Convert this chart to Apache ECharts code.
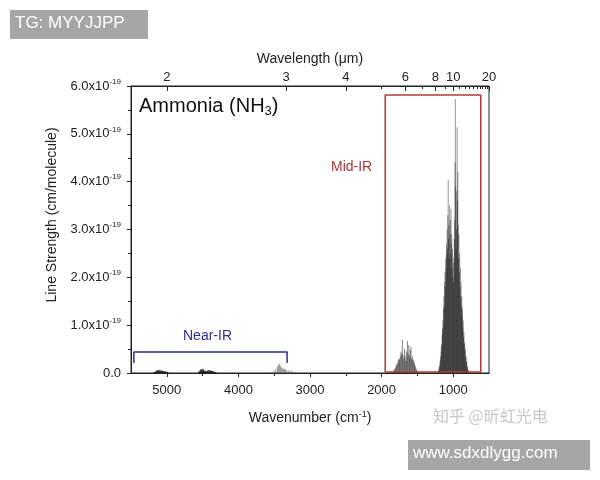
<!DOCTYPE html>
<html>
<head>
<meta charset="utf-8">
<script src="https://cdn.jsdelivr.net/npm/echarts@6/dist/echarts.min.js"></script>
<style>html,body{margin:0;padding:0;background:#fff;}#c{width:600px;height:480px;}</style>
</head>
<body>
<div id="c"></div>
<script>
// Line strength in units of 1e-19 cm/molecule, [wavenumber cm^-1, strength]
const nearIrBandA = [[5180,0.01],[5170,0.02],[5160,0.03],[5150,0.04],[5140,0.05],[5130,0.06],[5120,0.05],[5110,0.07],[5100,0.06],[5090,0.05],[5080,0.06],[5070,0.04],[5060,0.05],[5050,0.04],[5040,0.03],[5030,0.04],[5020,0.03],[5010,0.02],[5000,0.03],[4990,0.02],[4980,0.01]];
const nearIrBandB = [[4560,0.01],[4550,0.03],[4540,0.05],[4530,0.07],[4520,0.08],[4510,0.07],[4500,0.09],[4490,0.08],[4480,0.06],[4470,0.05],[4460,0.04],[4450,0.03],[4440,0.04],[4430,0.05],[4420,0.06],[4410,0.05],[4400,0.06],[4390,0.05],[4380,0.04],[4370,0.05],[4360,0.04],[4350,0.03],[4340,0.03],[4330,0.02],[4320,0.02],[4310,0.01]];
const nearIrBandC = [[3540,0.01],[3520,0.03],[3500,0.05],[3480,0.08],[3460,0.12],[3450,0.15],[3440,0.18],[3430,0.2],[3420,0.16],[3410,0.14],[3400,0.12],[3390,0.1],[3380,0.09],[3370,0.08],[3360,0.1],[3350,0.08],[3340,0.06],[3330,0.07],[3320,0.05],[3300,0.06],[3280,0.04],[3260,0.05],[3240,0.03],[3220,0.02],[3200,0.01]];
const nu4Band = [[1850,0.01],[1840,0.03],[1830,0.05],[1820,0.08],[1810,0.1],[1800,0.14],[1790,0.18],[1780,0.2],[1770,0.26],[1760,0.3],[1750,0.28],[1740,0.35],[1730,0.45],[1720,0.4],[1710,0.69],[1700,0.38],[1690,0.3],[1680,0.5],[1670,0.35],[1660,0.25],[1650,0.45],[1640,0.67],[1630,0.4],[1620,0.58],[1610,0.35],[1600,0.48],[1590,0.55],[1580,0.3],[1570,0.35],[1560,0.28],[1550,0.25],[1540,0.2],[1530,0.15],[1520,0.1],[1510,0.07],[1500,0.04],[1490,0.02]];
const nu2Band = [[1210,0.02],[1205,0.05],[1200,0.08],[1195,0.12],[1190,0.15],[1185,0.22],[1180,0.28],[1175,0.35],[1170,0.45],[1165,0.6],[1160,0.55],[1155,0.8],[1150,0.95],[1145,1.1],[1140,0.9],[1135,1.35],[1130,1.6],[1125,1.4],[1120,1.9],[1115,2.1],[1110,1.8],[1105,2.4],[1100,2.2],[1095,2.7],[1090,2.5],[1085,3.0],[1080,2.6],[1075,3.3],[1070,4.04],[1065,2.8],[1060,3.1],[1055,2.4],[1050,3.5],[1045,2.9],[1040,3.2],[1035,2.5],[1030,3.43],[1025,2.7],[1020,2.9],[1015,2.2],[1010,2.6],[1005,2.0],[1000,2.4],[995,1.9],[990,2.3],[985,2.8],[980,3.2],[975,4.4],[970,5.73],[965,3.9],[960,2.6],[955,3.0],[950,3.8],[945,5.14],[940,3.6],[935,4.2],[930,3.1],[925,2.4],[920,2.9],[915,2.1],[910,2.5],[905,1.8],[900,2.2],[895,1.6],[890,1.9],[885,1.4],[880,1.6],[875,1.2],[870,1.35],[865,0.95],[860,1.1],[855,0.75],[850,0.85],[845,0.6],[840,0.65],[835,0.45],[830,0.5],[825,0.32],[820,0.35],[815,0.22],[810,0.25],[805,0.15],[800,0.12],[795,0.08],[790,0.06],[785,0.04],[780,0.02]];

const wavenumberMajor = [1000,2000,3000,4000,5000];
const wavenumberMinor = [1500,2500,3500,4500];
const wavelengthMajor = [2,3,4,6,8,10,20];
const wavelengthMinor = [5,7,9,11,12,13,14,15,16,17,18,19];
const nearIrBracket = [[5460,0.21],[5460,0.44],[3320,0.44],[3320,0.21]];
const midIrBox = [[1950,0.02],[1950,5.81],[615,5.81],[615,0.02],[1950,0.02]];

const FONT = 'Liberation Sans';
const toWn = l => 10000 / l;

const chart = echarts.init(document.getElementById('c'), null, {renderer:'canvas'});
const axisBase = (pos) => ({
  type:'value', position:pos, min:500, max:5500, inverse:true, gridIndex:0,
  axisLine:{show:true, lineStyle:{color:'#222'}}, splitLine:{show:false}
});
const barStyle = (c) => ({type:'bar', xAxisIndex:0, yAxisIndex:0, barWidth:1, barGap:'-100%', itemStyle:{color:c}, silent:true, animation:false});
chart.setOption({
  animation:false,
  textStyle:{fontFamily:FONT},
  grid:{left:131, right:111, top:86, bottom:107, show:true, borderColor:'#222', borderWidth:1, backgroundColor:'transparent'},
  xAxis:[
    Object.assign(axisBase('bottom'), {
     name:'Wavenumber (cm{s|-1})', nameLocation:'middle', nameGap:37,
     nameTextStyle:{fontFamily:FONT, fontSize:14, color:'#222', rich:{s:{fontSize:9, verticalAlign:'top', padding:[0,0,8,0], fontFamily:FONT, color:'#222'}}},
     axisTick:{show:true, length:4, customValues:wavenumberMajor, lineStyle:{color:'#222'}},
     axisLabel:{show:true, fontSize:13, color:'#222', margin:11, customValues:wavenumberMajor, formatter:v=>String(v)}}),
    Object.assign(axisBase('top'), {
      name:'Wavelength (\u03bcm)', nameLocation:'middle', nameGap:16,
      nameTextStyle:{fontFamily:FONT, fontSize:14, color:'#222'},
      axisTick:{show:true, inside:true, length:5, customValues:wavelengthMajor.map(toWn), lineStyle:{color:'#222'}},
      axisLabel:{show:true, fontSize:13, color:'#222', margin:2, customValues:wavelengthMajor.map(toWn), formatter:v=>String(Math.round(10000/v))}
    }),
    Object.assign(axisBase('top'), {
      axisTick:{show:true, inside:true, length:3, customValues:wavelengthMinor.map(toWn), lineStyle:{color:'#222'}},
      axisLabel:{show:false}
    }),
    Object.assign(axisBase('bottom'), {
      axisTick:{show:true, length:3, customValues:wavenumberMinor, lineStyle:{color:'#222'}},
      axisLabel:{show:false}
    })
  ],
  yAxis:[
    {type:'value', min:0, max:6, interval:1,
     axisLine:{show:true, lineStyle:{color:'#222'}}, axisTick:{length:4, lineStyle:{color:'#222'}},
     minorTick:{show:true, splitNumber:2, length:3, lineStyle:{color:'#222'}},
     splitLine:{show:false},
     axisLabel:{margin:10, color:'#222', fontSize:13,
       formatter:v=> v===0 ? '{b|0.0}' : '{b|'+v.toFixed(1)+'x10}{s|-19}',
       rich:{b:{fontSize:13, fontFamily:FONT, color:'#222'}, s:{fontSize:8, fontFamily:FONT, color:'#222', verticalAlign:'top', padding:[0,0,9,0]}}}}
  ],
  series:[
    Object.assign(barStyle('rgba(0,0,0,0.75)'), {data:nearIrBandA}),
    Object.assign(barStyle('rgba(0,0,0,0.75)'), {data:nearIrBandB}),
    Object.assign(barStyle('rgba(90,90,90,0.5)'), {data:nearIrBandC}),
    Object.assign(barStyle('rgba(0,0,0,0.5)'), {data:nu4Band}),
    Object.assign(barStyle('rgba(0,0,0,0.42)'), {data:nu2Band}),
    {type:'line', xAxisIndex:0, yAxisIndex:0, data:nearIrBracket, symbol:'none', lineStyle:{color:'#2e2e8c', width:1.5}, silent:true, z:5},
    {type:'line', xAxisIndex:0, yAxisIndex:0, data:midIrBox, symbol:'none', lineStyle:{color:'#b03a3a', width:1.5}, silent:true, z:5}
  ],
  graphic:[
    {type:'text', x:52, y:215, rotation:Math.PI/2, style:{text:'Line Strength (cm/molecule)', fontFamily:FONT, fontSize:14, fill:'#222', align:'center', verticalAlign:'middle'}},
    {type:'text', left:139, top:96, style:{text:'Ammonia (NH{sub|3})', fontFamily:FONT, fontSize:20, fill:'#111',
      rich:{sub:{fontSize:13, fontFamily:FONT, fill:'#111', verticalAlign:'bottom', padding:[10,0,0,0]}}}},
    {type:'text', left:183, top:329, style:{text:'Near-IR', fontFamily:FONT, fontSize:14, fill:'#2e2e8c'}},
    {type:'text', left:331, top:160, style:{text:'Mid-IR', fontFamily:FONT, fontSize:14, fill:'#a83838'}},
    {type:'text', left:433, top:408, style:{text:'知乎 @昕虹光电', fontFamily:'Noto Sans CJK SC', fontSize:16, fill:'#c8c8c8'}},
    {type:'rect', left:10, top:10, shape:{width:138, height:29}, style:{fill:'#a6a6a6'}},
    {type:'text', left:15, top:15, style:{text:'TG: MYYJJPP', fontFamily:FONT, fontSize:17, fill:'#fff'}},
    {type:'rect', left:408, top:440, shape:{width:182, height:30}, style:{fill:'#a6a6a6'}},
    {type:'text', left:413, top:445, style:{text:'www.sdxdlygg.com', fontFamily:FONT, fontSize:17, fill:'#fff'}}
  ]
});
</script>
</body>
</html>
